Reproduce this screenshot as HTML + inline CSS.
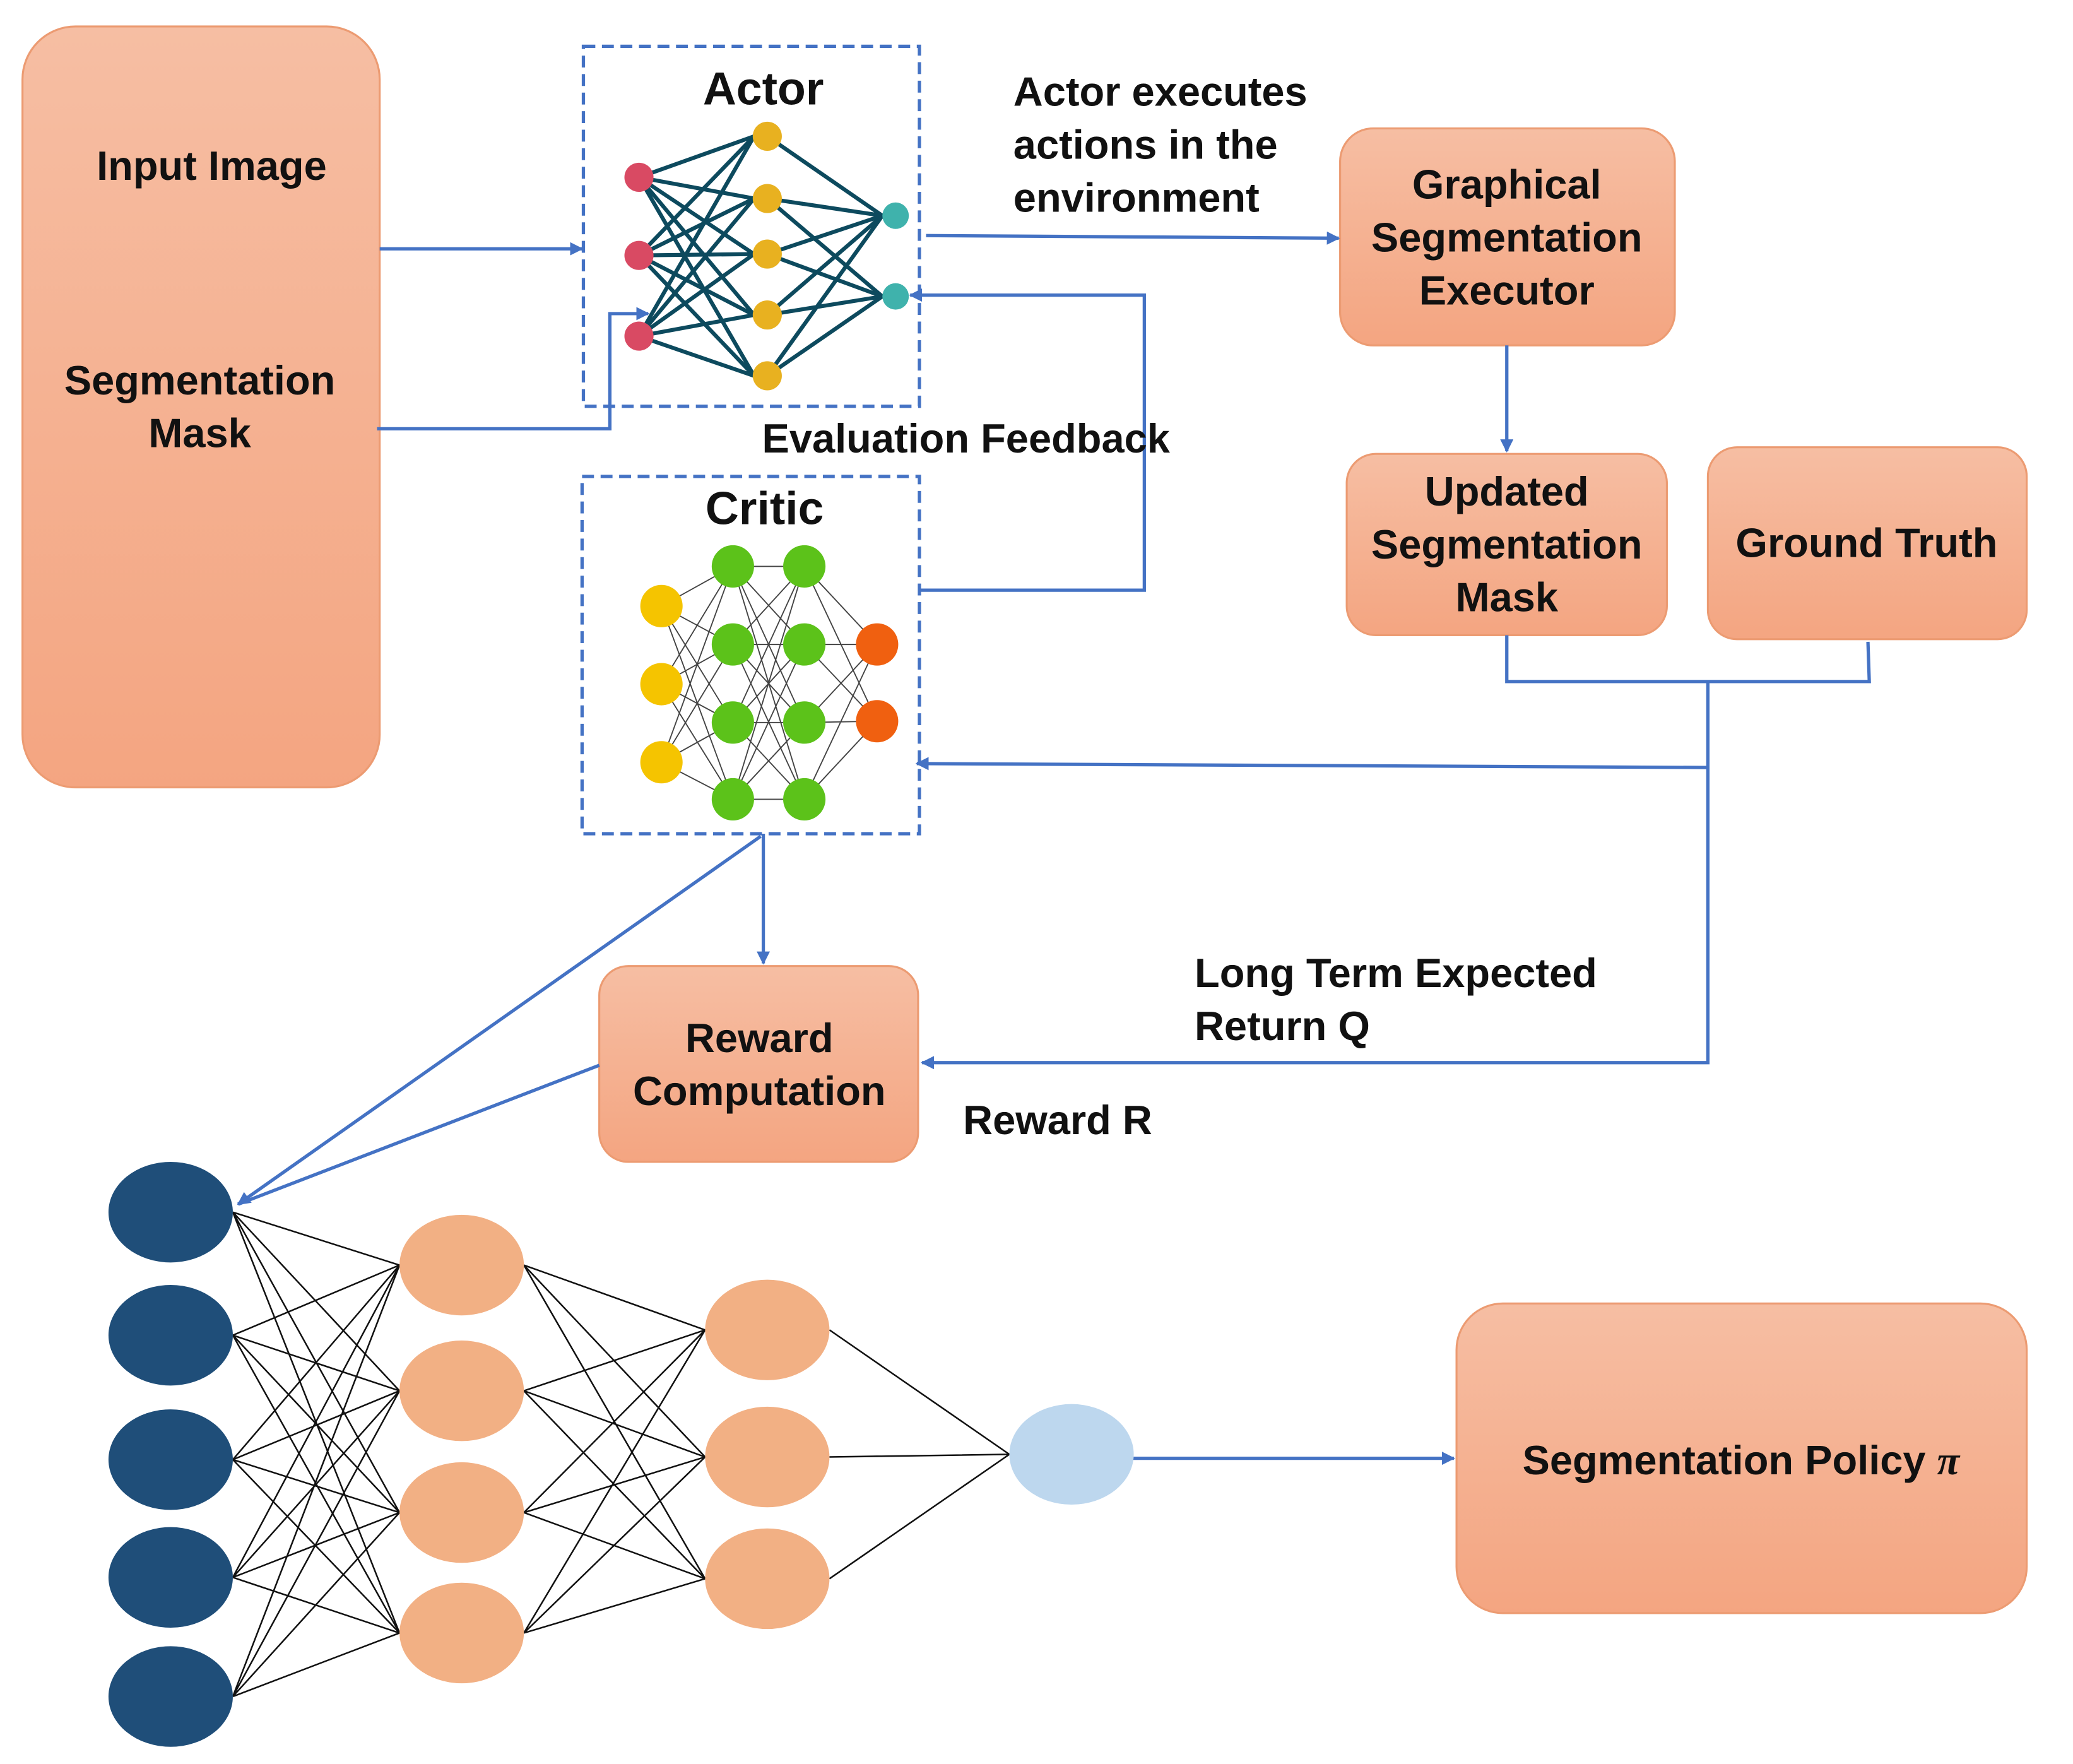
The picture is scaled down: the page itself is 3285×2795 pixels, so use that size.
<!DOCTYPE html>
<html><head><meta charset="utf-8"><style>
html,body{margin:0;padding:0;background:#fff;}
svg{display:block;}
text{font-family:"Liberation Sans",sans-serif;font-weight:bold;fill:#111;}
</style></head><body>
<svg width="3285" height="2795" viewBox="0 0 1567 1333" preserveAspectRatio="none" xmlns="http://www.w3.org/2000/svg">
<defs>
<linearGradient id="g" x1="0" y1="0" x2="0" y2="1"><stop offset="0" stop-color="#f6bea3"/><stop offset="1" stop-color="#f4a581"/></linearGradient>
<marker id="a" markerWidth="10" markerHeight="10" refX="9" refY="5" orient="auto" markerUnits="userSpaceOnUse"><path d="M0,0 L10,5 L0,10 z" fill="#4472c4"/></marker>
</defs>
<g stroke="#ec9b72" stroke-width="1.5" fill="url(#g)">
<rect x="17" y="20" width="270" height="575" rx="40"/>
<rect x="1013" y="97" width="253" height="164" rx="25"/>
<rect x="1018" y="343" width="242" height="137" rx="22"/>
<rect x="1291" y="338" width="241" height="145" rx="22"/>
<rect x="453" y="730" width="241" height="148" rx="22"/>
<rect x="1101" y="985" width="431" height="234" rx="35"/>
</g>
<g stroke="#4472c4" stroke-width="2.5" fill="none" stroke-dasharray="9,5">
<rect x="441" y="35" width="254" height="272"/>
<rect x="440" y="360" width="255" height="270"/>
</g>
<g stroke="#0d4a5e" stroke-width="3">
<line x1="483" y1="134" x2="570" y2="103"/><line x1="483" y1="134" x2="570" y2="150"/><line x1="483" y1="134" x2="570" y2="192"/><line x1="483" y1="134" x2="570" y2="238"/><line x1="483" y1="134" x2="570" y2="284"/>
<line x1="483" y1="193" x2="570" y2="103"/><line x1="483" y1="193" x2="570" y2="150"/><line x1="483" y1="193" x2="570" y2="192"/><line x1="483" y1="193" x2="570" y2="238"/><line x1="483" y1="193" x2="570" y2="284"/>
<line x1="483" y1="254" x2="570" y2="103"/><line x1="483" y1="254" x2="570" y2="150"/><line x1="483" y1="254" x2="570" y2="192"/><line x1="483" y1="254" x2="570" y2="238"/><line x1="483" y1="254" x2="570" y2="284"/>
<line x1="580" y1="103" x2="667" y2="163"/><line x1="580" y1="150" x2="667" y2="163"/><line x1="580" y1="192" x2="667" y2="163"/><line x1="580" y1="238" x2="667" y2="163"/><line x1="580" y1="284" x2="667" y2="163"/>
<line x1="580" y1="150" x2="667" y2="224"/><line x1="580" y1="192" x2="667" y2="224"/><line x1="580" y1="238" x2="667" y2="224"/><line x1="580" y1="284" x2="667" y2="224"/>
</g>
<g fill="#d94a63"><circle cx="483" cy="134" r="11"/><circle cx="483" cy="193" r="11"/><circle cx="483" cy="254" r="11"/></g>
<g fill="#e8b120"><circle cx="580" cy="103" r="11"/><circle cx="580" cy="150" r="11"/><circle cx="580" cy="192" r="11"/><circle cx="580" cy="238" r="11"/><circle cx="580" cy="284" r="11"/></g>
<g fill="#3fb2ac"><circle cx="677" cy="163" r="10"/><circle cx="677" cy="224" r="10"/></g>
<g stroke="#444" stroke-width="0.9">
<path d="M500 458L554 428M500 458L554 487M500 458L554 546M500 458L554 604M500 517L554 428M500 517L554 487M500 517L554 546M500 517L554 604M500 576L554 428M500 576L554 487M500 576L554 546M500 576L554 604"/>
<path d="M554 428L608 428M554 428L608 487M554 428L608 546M554 428L608 604M554 487L608 428M554 487L608 487M554 487L608 546M554 487L608 604M554 546L608 428M554 546L608 487M554 546L608 546M554 546L608 604M554 604L608 428M554 604L608 487M554 604L608 546M554 604L608 604"/>
<path d="M608 428L663 487M608 428L663 545M608 487L663 487M608 487L663 545M608 546L663 487M608 546L663 545M608 604L663 487M608 604L663 545"/>
</g>
<g fill="#f5c400"><circle cx="500" cy="458" r="16"/><circle cx="500" cy="517" r="16"/><circle cx="500" cy="576" r="16"/></g>
<g fill="#5cc21a"><circle cx="554" cy="428" r="16"/><circle cx="554" cy="487" r="16"/><circle cx="554" cy="546" r="16"/><circle cx="554" cy="604" r="16"/><circle cx="608" cy="428" r="16"/><circle cx="608" cy="487" r="16"/><circle cx="608" cy="546" r="16"/><circle cx="608" cy="604" r="16"/></g>
<g fill="#f06010"><circle cx="663" cy="487" r="16"/><circle cx="663" cy="545" r="16"/></g>
<g stroke="#4472c4" stroke-width="2.5" fill="none">
<line x1="287" y1="188" x2="440" y2="188" marker-end="url(#a)"/>
<polyline points="285,324 461,324 461,237 490,237" marker-end="url(#a)"/>
<line x1="700" y1="178" x2="1012" y2="180" marker-end="url(#a)"/>
<line x1="1139" y1="261" x2="1139" y2="341" marker-end="url(#a)"/>
<polyline points="695,446 865,446 865,223 688,223" marker-end="url(#a)"/>
<polyline points="1139,480 1139,515 1413,515 1412,485"/>
<polyline points="1291,515 1291,803 697,803" marker-end="url(#a)"/>
<line x1="1291" y1="580" x2="693" y2="577" marker-end="url(#a)"/>
<line x1="577" y1="630" x2="577" y2="728" marker-end="url(#a)"/>
<line x1="575" y1="632" x2="180" y2="910" marker-end="url(#a)"/>
<line x1="453" y1="805" x2="180" y2="910"/>
<line x1="856" y1="1102" x2="1099" y2="1102" marker-end="url(#a)"/>
</g>
<g stroke="#111" stroke-width="1.2">
<path d="M176 916L302 956M176 916L302 1051M176 916L302 1143M176 916L302 1234M176 1009L302 956M176 1009L302 1051M176 1009L302 1143M176 1009L302 1234M176 1103L302 956M176 1103L302 1051M176 1103L302 1143M176 1103L302 1234M176 1192L302 956M176 1192L302 1051M176 1192L302 1143M176 1192L302 1234M176 1282L302 956M176 1282L302 1051M176 1282L302 1143M176 1282L302 1234"/>
<path d="M396 956L533 1005M396 956L533 1101M396 956L533 1193M396 1051L533 1005M396 1051L533 1101M396 1051L533 1193M396 1143L533 1005M396 1143L533 1101M396 1143L533 1193M396 1234L533 1005M396 1234L533 1101M396 1234L533 1193"/>
<path d="M627 1005L763 1099M627 1101L763 1099M627 1193L763 1099"/>
</g>
<g fill="#1f4e79"><ellipse cx="129" cy="916" rx="47" ry="38"/><ellipse cx="129" cy="1009" rx="47" ry="38"/><ellipse cx="129" cy="1103" rx="47" ry="38"/><ellipse cx="129" cy="1192" rx="47" ry="38"/><ellipse cx="129" cy="1282" rx="47" ry="38"/></g>
<g fill="#f2b084"><ellipse cx="349" cy="956" rx="47" ry="38"/><ellipse cx="349" cy="1051" rx="47" ry="38"/><ellipse cx="349" cy="1143" rx="47" ry="38"/><ellipse cx="349" cy="1234" rx="47" ry="38"/><ellipse cx="580" cy="1005" rx="47" ry="38"/><ellipse cx="580" cy="1101" rx="47" ry="38"/><ellipse cx="580" cy="1193" rx="47" ry="38"/></g>
<ellipse cx="810" cy="1099" rx="47" ry="38" fill="#bdd7ee"/>
<g font-size="31" text-anchor="middle">
<text x="160" y="136">Input Image</text>
<text x="151" y="298">Segmentation</text>
<text x="151" y="338">Mask</text>
<text x="1139" y="150">Graphical</text>
<text x="1139" y="190">Segmentation</text>
<text x="1139" y="230">Executor</text>
<text x="1139" y="382">Updated</text>
<text x="1139" y="422">Segmentation</text>
<text x="1139" y="462">Mask</text>
<text x="1411" y="421">Ground Truth</text>
<text x="574" y="795">Reward</text>
<text x="574" y="835">Computation</text>
<text x="1316" y="1114">Segmentation Policy <tspan font-style="italic" font-family="Liberation Serif">π</tspan></text>
</g>
<g font-size="35" text-anchor="middle">
<text x="577" y="79">Actor</text>
<text x="578" y="396">Critic</text>
</g>
<g font-size="31">
<text x="766" y="80">Actor executes</text>
<text x="766" y="120">actions in the</text>
<text x="766" y="160">environment</text>
<text x="576" y="342">Evaluation Feedback</text>
<text x="903" y="746">Long Term Expected</text>
<text x="903" y="786">Return Q</text>
<text x="728" y="857">Reward R</text>
</g>
</svg>
</body></html>
